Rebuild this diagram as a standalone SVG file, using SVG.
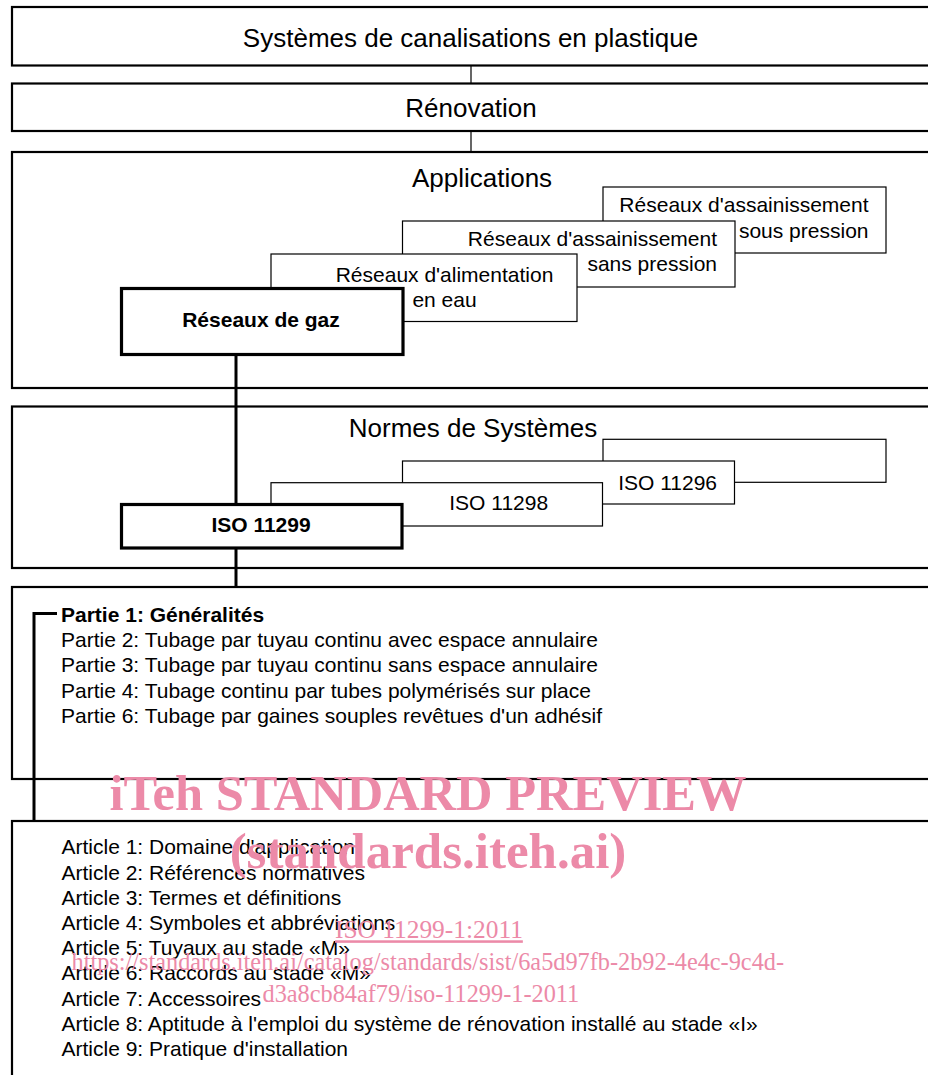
<svg xmlns="http://www.w3.org/2000/svg" width="928" height="1075" viewBox="0 0 928 1075">
<style>
.outer{fill:#fff;stroke:#000;stroke-width:2.2}
.sub{fill:#fff;stroke:#000;stroke-width:1.2}
.main{fill:#fff;stroke:#000;stroke-width:3.2}
.t{font-family:"Liberation Sans",Arial,sans-serif;fill:#000}
.big{font-size:26px}
.mid{font-size:21px}
.b{font-weight:bold}
.wm{font-family:"Liberation Serif","Times New Roman",serif;fill:#ec8aa8}
</style>
<rect width="928" height="1075" fill="#fff"/>
<g id="connectors" fill="none" stroke="#000">
<line x1="471" y1="65" x2="471" y2="84" stroke-width="1.2"/>
<line x1="471" y1="131" x2="471" y2="152" stroke-width="1.2"/>
</g>
<g id="n-systemes">
<rect class="outer" x="12" y="7" width="930" height="58.5"/>
<text class="t big" x="470.5" y="46.7" text-anchor="middle">Systèmes de canalisations en plastique</text>
</g>
<g id="n-renovation">
<rect class="outer" x="12" y="83.5" width="930" height="47.5"/>
<text class="t big" x="471" y="116.7" text-anchor="middle">Rénovation</text>
</g>
<g id="n-applications">
<rect class="outer" x="12" y="152" width="930" height="236"/>
<text class="t big" x="482" y="186.5" text-anchor="middle">Applications</text>
</g>
<g id="n-assain-sous">
<rect class="sub" x="603" y="187" width="283" height="66"/>
<text class="t mid" x="868.5" y="212.3" text-anchor="end">Réseaux d'assainissement</text>
<text class="t mid" x="868.5" y="237.7" text-anchor="end">sous pression</text>
</g>
<g id="n-assain-sans">
<rect class="sub" x="402.5" y="221" width="332.5" height="66"/>
<text class="t mid" x="717" y="245.5" text-anchor="end">Réseaux d'assainissement</text>
<text class="t mid" x="717" y="270.7" text-anchor="end">sans pression</text>
</g>
<g id="n-alimentation">
<rect class="sub" x="271" y="254" width="306" height="67.5"/>
<text class="t mid" x="444.5" y="282" text-anchor="middle">Réseaux d'alimentation</text>
<text class="t mid" x="444.5" y="307" text-anchor="middle">en eau</text>
</g>
<g id="n-gaz">
<rect class="main" x="121.5" y="288.5" width="281.5" height="66"/>
<text class="t mid b" x="261" y="326.7" text-anchor="middle">Réseaux de gaz</text>
</g>
<g id="n-normes">
<rect class="outer" x="12" y="406.5" width="930" height="161.5"/>
<text class="t big" x="473" y="437" text-anchor="middle">Normes de Systèmes</text>
</g>
<g id="n-iso-back">
<rect class="sub" x="603" y="439.3" width="283" height="43"/>
</g>
<g id="n-iso11296">
<rect class="sub" x="402.5" y="461" width="332" height="43"/>
<text class="t mid" x="717" y="490" text-anchor="end">ISO 11296</text>
</g>
<g id="n-iso11298">
<rect class="sub" x="271" y="482.7" width="331.5" height="43.3"/>
<text class="t mid" x="498.7" y="510" text-anchor="middle">ISO 11298</text>
</g>
<g id="n-iso11299">
<rect class="main" x="121.5" y="504.5" width="280.5" height="43.5"/>
<text class="t mid b" x="261" y="532.3" text-anchor="middle">ISO 11299</text>
</g>
<g id="n-parties">
<rect class="outer" x="12" y="587" width="930" height="192"/>
<text class="t mid b" x="61" y="621.6">Partie 1: Généralités</text>
<text class="t mid" x="61" y="646.9">Partie 2: Tubage par tuyau continu avec espace annulaire</text>
<text class="t mid" x="61" y="672.2">Partie 3: Tubage par tuyau continu sans espace annulaire</text>
<text class="t mid" x="61" y="697.5">Partie 4: Tubage continu par tubes polymérisés sur place</text>
<text class="t mid" x="61" y="722.8">Partie 6: Tubage par gaines souples revêtues d'un adhésif</text>
</g>
<g id="n-articles">
<rect class="outer" x="12" y="821" width="930" height="270"/>
<text class="t mid" x="61.5" y="854.3">Article 1: Domaine d'application</text>
<text class="t mid" x="61.5" y="879.5">Article 2: Références normatives</text>
<text class="t mid" x="61.5" y="904.7">Article 3: Termes et définitions</text>
<text class="t mid" x="61.5" y="929.9">Article 4: Symboles et abbréviations</text>
<text class="t mid" x="61.5" y="955.1">Article 5: Tuyaux au stade «M»</text>
<text class="t mid" x="61.5" y="980.3">Article 6: Raccords au stade «M»</text>
<text class="t mid" x="61.5" y="1005.5">Article 7: Accessoires</text>
<text class="t mid" x="61.5" y="1030.7">Article 8: Aptitude à l'emploi du système de rénovation installé au stade «I»</text>
<text class="t mid" x="61.5" y="1055.9">Article 9: Pratique d'installation</text>
</g>
<g id="connectors-thick" fill="none" stroke="#000" stroke-width="3">
<line x1="236" y1="355" x2="236" y2="504"/>
<line x1="236" y1="548" x2="236" y2="587"/>
<polyline points="57,613.5 34,613.5 34,821"/>
</g>
<g id="watermark">
<text class="wm" x="428" y="810" font-size="50.5" font-weight="bold" text-anchor="middle">iTeh STANDARD PREVIEW</text>
<text class="wm" x="428" y="868" font-size="51" font-weight="bold" text-anchor="middle">(standards.iteh.ai)</text>
<text class="wm" x="335" y="938.3" font-size="25.4" text-decoration="underline">ISO 11299-1:2011</text>
<text class="wm" x="71.5" y="970" font-size="24.3">https://standards.iteh.ai/catalog/standards/sist/6a5d97fb-2b92-4e4c-9c4d-</text>
<text class="wm" x="262.5" y="1001.7" font-size="24.3">d3a8cb84af79/iso-11299-1-2011</text>
</g>
</svg>
